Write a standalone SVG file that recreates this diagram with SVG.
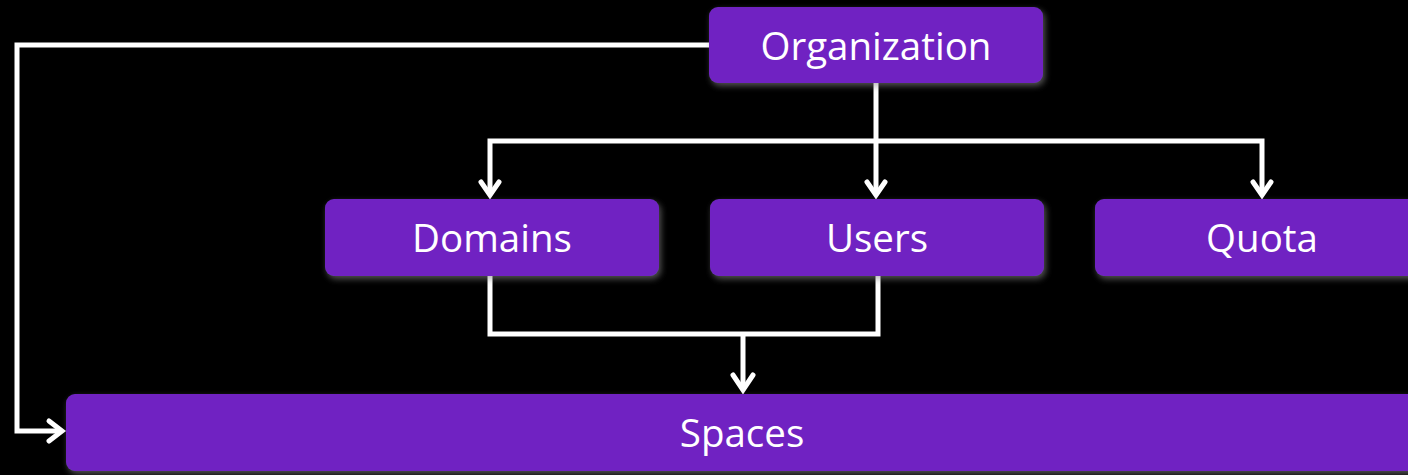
<svg xmlns="http://www.w3.org/2000/svg" width="1408" height="475" viewBox="0 0 1408 475">
<style>
.box{fill:#7024C2;filter:url(#sh)}
.lbl{font-family:"Open Sans","Liberation Sans",sans-serif;font-size:38.5px;fill:#fff;text-anchor:middle}
.ln{fill:none;stroke:#fff;stroke-width:5}
.ah{fill:none;stroke:#fff;stroke-width:5;stroke-linecap:round;stroke-linejoin:miter}
</style>
<defs>
<filter id="sh" x="-5%" y="-20%" width="110%" height="150%">
<feDropShadow dx="2" dy="3" stdDeviation="3" flood-color="#888" flood-opacity="0.6"/>
</filter>
</defs>
<rect width="1408" height="475" fill="#000"/>
<g id="connectors">
<polyline class="ln" points="709,45 17,45 17,431 60,431"/>
<polyline class="ah" points="49,421 62,431 49,441"/>
<line class="ln" x1="876" y1="83" x2="876" y2="194"/>
<polyline class="ln" points="490,194 490,141 1262,141 1262,194"/>
<polyline class="ah" points="481,182 490,195 499,182"/>
<polyline class="ah" points="867,182 876,195 885,182"/>
<polyline class="ah" points="1253,182 1262,195 1271,182"/>
<polyline class="ln" points="490,276 490,334 878,334 878,276"/>
<line class="ln" x1="743" y1="334" x2="743" y2="389"/>
<polyline class="ah" points="733,375 743,390 753,375"/>
</g>
<g id="organization">
<rect class="box" x="709" y="7" width="334" height="76" rx="9"/>
<text class="lbl" x="876" y="60">Organization</text>
</g>
<g id="domains">
<rect class="box" x="325" y="199" width="334" height="77" rx="9"/>
<text class="lbl" x="492" y="252">Domains</text>
</g>
<g id="users">
<rect class="box" x="710" y="199" width="334" height="77" rx="9"/>
<text class="lbl" x="877" y="252">Users</text>
</g>
<g id="quota">
<rect class="box" x="1095" y="199" width="334" height="77" rx="9"/>
<text class="lbl" x="1262" y="252">Quota</text>
</g>
<g id="spaces">
<rect class="box" x="66" y="394" width="1360" height="77" rx="9"/>
<text class="lbl" x="742" y="447">Spaces</text>
</g>
</svg>
